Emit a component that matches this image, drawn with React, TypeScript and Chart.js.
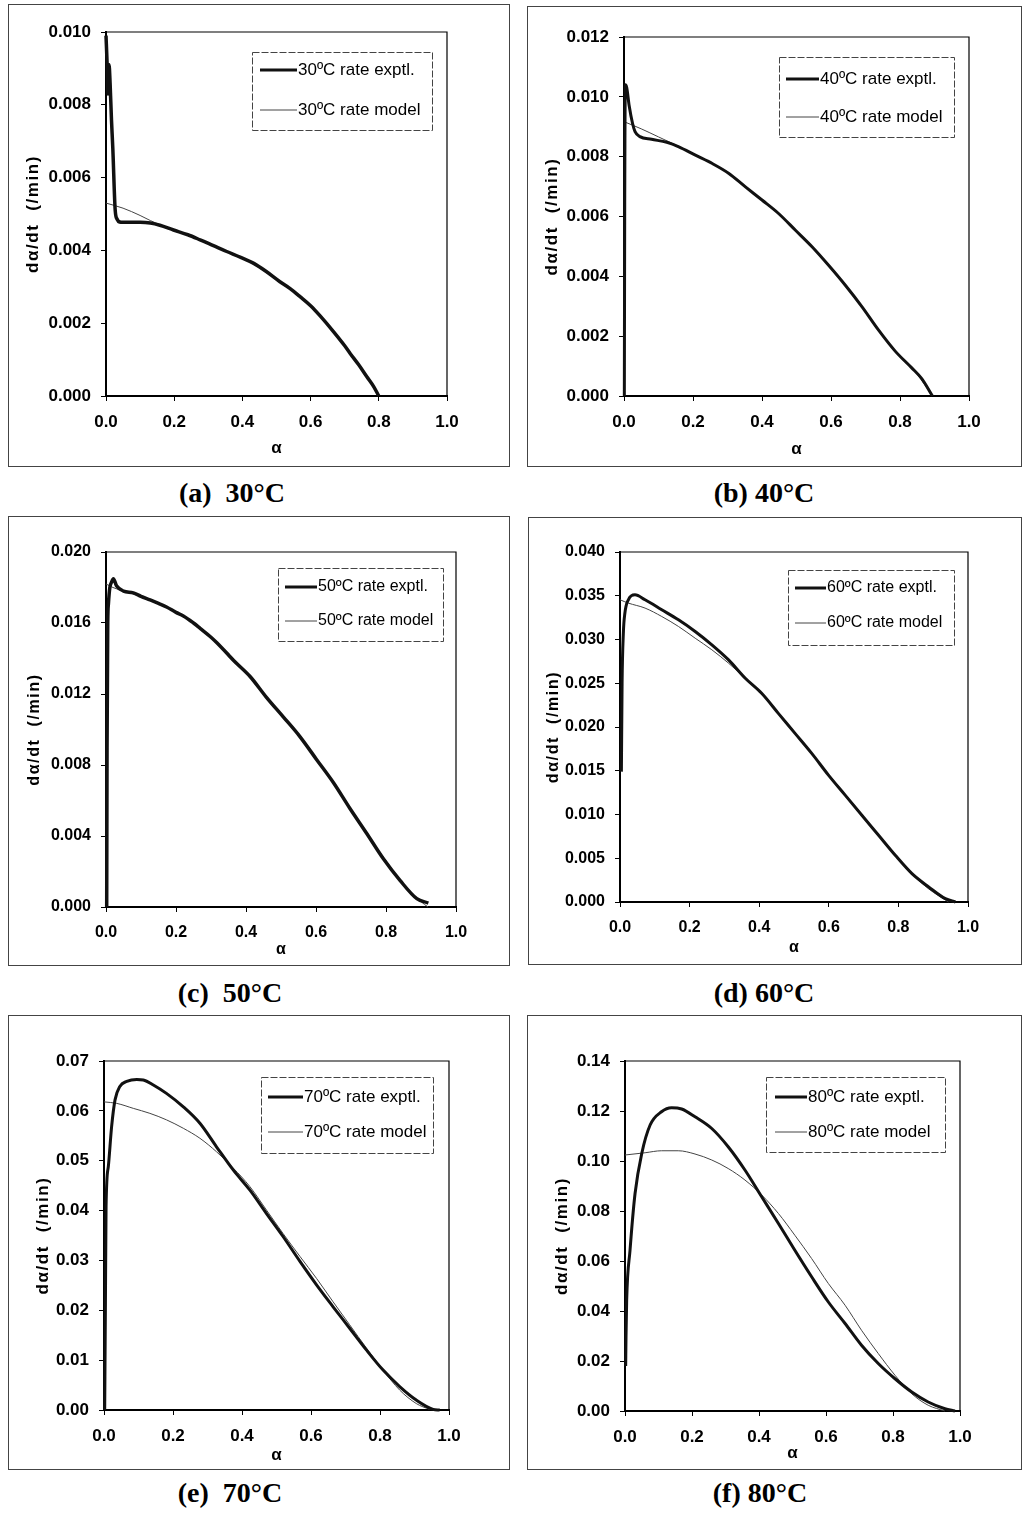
import React, { useEffect, useRef } from "react";
import { Chart, registerables } from "chart.js";

Chart.register(...registerables);

// ---------------- DATA ----------------
const xTicks = [0, 0.2, 0.4, 0.6, 0.8, 1.0];

// (a) 30 °C
const alphaExpt30 = [0.000, 0.003, 0.006, 0.009, 0.012, 0.016, 0.020, 0.027, 0.033, 0.040, 0.050, 0.075, 0.100, 0.130, 0.158, 0.198, 0.240, 0.276, 0.315, 0.354, 0.395, 0.432, 0.470, 0.510, 0.540, 0.569, 0.600, 0.628, 0.667, 0.700, 0.716, 0.740, 0.765, 0.785, 0.800];
const rateExpt30 = [0.0099, 0.0092, 0.0083, 0.0091, 0.0086, 0.0076, 0.0068, 0.0051, 0.00485, 0.00478, 0.00477, 0.00477, 0.00477, 0.00475, 0.00469, 0.00456, 0.00443, 0.00429, 0.00413, 0.00397, 0.00381, 0.00365, 0.00342, 0.00314, 0.00295, 0.00273, 0.00248, 0.00220, 0.00177, 0.00138, 0.00117, 0.00087, 0.00053, 0.00026, 0.0];
const alphaModel30 = [0.00, 0.05, 0.10, 0.13, 0.16, 0.20, 0.25, 0.30, 0.35, 0.40, 0.45, 0.50, 0.55, 0.60, 0.65, 0.70, 0.75, 0.78, 0.80];
const rateModel30 = [0.0053, 0.00516, 0.00496, 0.00482, 0.00470, 0.00457, 0.00438, 0.00418, 0.00399, 0.00379, 0.00352, 0.00320, 0.00288, 0.00247, 0.00197, 0.00141, 0.00074, 0.00036, 0.0];

// (b) 40 °C
const alphaExpt40 = [0.001, 0.002, 0.004, 0.008, 0.015, 0.025, 0.032, 0.046, 0.080, 0.124, 0.159, 0.207, 0.256, 0.304, 0.352, 0.400, 0.448, 0.497, 0.545, 0.593, 0.641, 0.690, 0.738, 0.786, 0.834, 0.863, 0.894];
const rateExpt40 = [0.0, 0.0060, 0.0104, 0.0103, 0.0097, 0.0091, 0.00884, 0.00867, 0.00858, 0.00848, 0.00833, 0.00805, 0.00777, 0.00744, 0.00699, 0.00655, 0.00610, 0.00554, 0.00499, 0.00437, 0.00371, 0.00298, 0.00220, 0.00150, 0.00094, 0.00058, 0.0];
const alphaModel40 = [0.00, 0.05, 0.10, 0.15, 0.20, 0.25, 0.30, 0.35, 0.40, 0.45, 0.50, 0.55, 0.60, 0.65, 0.70, 0.75, 0.80, 0.85, 0.894];
const rateModel40 = [0.00917, 0.00893, 0.00866, 0.00839, 0.00810, 0.00780, 0.00747, 0.00701, 0.00655, 0.00608, 0.00551, 0.00493, 0.00427, 0.00359, 0.00281, 0.00201, 0.00130, 0.00072, 0.0];

// (c) 50 °C
const alphaExpt50 = [0.002, 0.003, 0.005, 0.007, 0.011, 0.016, 0.021, 0.030, 0.050, 0.078, 0.100, 0.126, 0.150, 0.173, 0.200, 0.221, 0.250, 0.269, 0.300, 0.316, 0.350, 0.364, 0.411, 0.459, 0.507, 0.554, 0.602, 0.650, 0.697, 0.745, 0.792, 0.840, 0.888, 0.921];
const rateExpt50 = [0.0, 0.0090, 0.0160, 0.0171, 0.0180, 0.0183, 0.0185, 0.0181, 0.0178, 0.0177, 0.0175, 0.0173, 0.0171, 0.0169, 0.0166, 0.0164, 0.0160, 0.0157, 0.0152, 0.0149, 0.0142, 0.0139, 0.0130, 0.0118, 0.0107, 0.0096, 0.0083, 0.0070, 0.00555, 0.00414, 0.00273, 0.00150, 0.00047, 0.00022];
const alphaModel50 = [0.00, 0.02, 0.05, 0.10, 0.15, 0.20, 0.25, 0.30, 0.35, 0.40, 0.45, 0.50, 0.55, 0.60, 0.65, 0.70, 0.75, 0.80, 0.85, 0.90, 0.92];
const rateModel50 = [0.0182, 0.0180, 0.0178, 0.0175, 0.0171, 0.0166, 0.0160, 0.0152, 0.0142, 0.0132, 0.0120, 0.0108, 0.0097, 0.0084, 0.0070, 0.0055, 0.0040, 0.0026, 0.0013, 0.0003, 0.0];

// (d) 60 °C
const alphaExpt60 = [0.004, 0.006, 0.0096, 0.014, 0.024, 0.043, 0.072, 0.120, 0.168, 0.216, 0.264, 0.312, 0.360, 0.407, 0.455, 0.503, 0.551, 0.599, 0.647, 0.695, 0.743, 0.791, 0.839, 0.887, 0.935, 0.964];
const rateExpt60 = [0.0149, 0.0250, 0.0307, 0.0330, 0.03454, 0.03511, 0.03454, 0.0334, 0.03225, 0.03092, 0.02939, 0.02767, 0.02557, 0.02385, 0.02156, 0.01927, 0.01698, 0.0145, 0.01221, 0.00992, 0.00763, 0.00534, 0.00324, 0.00172, 0.00038, 0.0];
const alphaModel60 = [0.000, 0.024, 0.072, 0.120, 0.168, 0.216, 0.264, 0.312, 0.360, 0.407, 0.455, 0.503, 0.551, 0.599, 0.647, 0.695, 0.743, 0.791, 0.839, 0.887, 0.944];
const rateModel60 = [0.03454, 0.03416, 0.03359, 0.03263, 0.03149, 0.03015, 0.02882, 0.02729, 0.02557, 0.02385, 0.0216, 0.0193, 0.0170, 0.0146, 0.0123, 0.0100, 0.0077, 0.0054, 0.0032, 0.0015, 0.0];

// (e) 70 °C
const alphaExpt70 = [0.002, 0.004, 0.006, 0.0125, 0.022, 0.032, 0.046, 0.066, 0.095, 0.114, 0.143, 0.181, 0.230, 0.278, 0.326, 0.375, 0.423, 0.471, 0.519, 0.568, 0.616, 0.664, 0.712, 0.761, 0.809, 0.857, 0.905, 0.954, 0.973];
const rateExpt70 = [0.0, 0.0200, 0.0408, 0.0488, 0.0568, 0.0622, 0.0649, 0.0659, 0.0663, 0.0662, 0.0652, 0.0635, 0.0608, 0.0575, 0.0528, 0.0481, 0.0441, 0.0394, 0.0348, 0.0298, 0.0251, 0.0207, 0.0164, 0.0120, 0.0080, 0.0047, 0.0020, 0.00013, 0.0];
const alphaModel70 = [0.000, 0.037, 0.085, 0.133, 0.181, 0.230, 0.278, 0.326, 0.375, 0.423, 0.471, 0.519, 0.568, 0.616, 0.664, 0.712, 0.761, 0.809, 0.857, 0.905, 0.944];
const rateModel70 = [0.0618, 0.0615, 0.0605, 0.0595, 0.0582, 0.0565, 0.0545, 0.0518, 0.0485, 0.0448, 0.0401, 0.0354, 0.0308, 0.0264, 0.0217, 0.0171, 0.0124, 0.0080, 0.0040, 0.0013, 0.0001];

// (f) 80 °C
const alphaExpt80 = [0.002, 0.003, 0.005, 0.015, 0.030, 0.050, 0.075, 0.109, 0.139, 0.169, 0.209, 0.259, 0.308, 0.358, 0.408, 0.458, 0.507, 0.557, 0.607, 0.657, 0.706, 0.756, 0.806, 0.856, 0.905, 0.955, 0.985];
const rateExpt80 = [0.018, 0.0296, 0.0443, 0.0643, 0.0870, 0.1030, 0.1144, 0.1197, 0.1213, 0.1208, 0.1177, 0.1130, 0.1057, 0.0964, 0.0857, 0.0750, 0.0643, 0.0537, 0.0436, 0.0350, 0.0263, 0.0190, 0.0129, 0.0076, 0.0036, 0.0009, 0.0];
const alphaModel80 = [0.000, 0.060, 0.109, 0.159, 0.209, 0.259, 0.308, 0.358, 0.408, 0.458, 0.507, 0.557, 0.607, 0.657, 0.706, 0.756, 0.806, 0.856, 0.905, 0.955];
const rateModel80 = [0.1024, 0.1033, 0.1041, 0.1041, 0.1028, 0.1004, 0.0970, 0.0924, 0.0864, 0.0790, 0.0703, 0.0610, 0.0510, 0.0423, 0.0323, 0.0230, 0.0143, 0.0069, 0.0023, 0.0];

const temps = [30, 40, 50, 60, 70, 80];
const panelLetters = ["a", "b", "c", "d", "e", "f"];
const yMaxes = [0.010, 0.012, 0.020, 0.040, 0.07, 0.14];
const ySteps = [0.002, 0.002, 0.004, 0.005, 0.01, 0.02];
const yDecimals = [3, 3, 3, 3, 2, 2];
const yTitle = "dα/dt  (/min)";
const xTitle = "α";
const seriesAlphaExpt = [alphaExpt30, alphaExpt40, alphaExpt50, alphaExpt60, alphaExpt70, alphaExpt80];
const seriesRateExpt = [rateExpt30, rateExpt40, rateExpt50, rateExpt60, rateExpt70, rateExpt80];
const seriesAlphaModel = [alphaModel30, alphaModel40, alphaModel50, alphaModel60, alphaModel70, alphaModel80];
const seriesRateModel = [rateModel30, rateModel40, rateModel50, rateModel60, rateModel70, rateModel80];

// ---------------- LAYOUT (page pixels) ----------------
type Layout = {
  box: [number, number, number, number];
  plot: [number, number, number, number];
  yTitleX: number;
  xTitleY: number;
  legend: [number, number, number, number, number, number, number, number];
  caption: [number, number];
  fontSize: number;
  legendFont: number;
  exptWidth: number;
  captionSpace: string;
};

const layouts: Layout[] = [
  { box: [8, 4, 502, 463], plot: [106, 32, 447, 396], yTitleX: 33, xTitleY: 448, legend: [252, 52, 180, 78, 18, 58, 8, 45], caption: [232, 493], fontSize: 17, legendFont: 17, exptWidth: 3.5, captionSpace: "  " },
  { box: [527, 6, 495, 461], plot: [624, 37, 969, 396], yTitleX: 552, xTitleY: 449, legend: [779, 57, 175, 80, 22, 60, 7, 40], caption: [764, 493], fontSize: 17, legendFont: 17, exptWidth: 3, captionSpace: " " },
  { box: [8, 516, 502, 450], plot: [106, 552, 456, 907], yTitleX: 35, xTitleY: 950, legend: [278, 568, 165, 73, 19, 53, 7, 39], caption: [230, 993], fontSize: 16, legendFont: 16, exptWidth: 3.5, captionSpace: "  " },
  { box: [528, 517, 494, 448], plot: [620, 552, 968, 902], yTitleX: 554, xTitleY: 948, legend: [788, 570, 166, 75, 18, 53, 7, 38], caption: [764, 993], fontSize: 16, legendFont: 16, exptWidth: 3, captionSpace: " " },
  { box: [8, 1015, 502, 455], plot: [104, 1061, 449, 1410], yTitleX: 43, xTitleY: 1455, legend: [261, 1077, 172, 76, 20, 55, 7, 42], caption: [230, 1493], fontSize: 17, legendFont: 17, exptWidth: 3, captionSpace: "  " },
  { box: [527, 1015, 495, 455], plot: [625, 1061, 960, 1411], yTitleX: 562, xTitleY: 1453, legend: [766, 1077, 179, 75, 20, 55, 9, 41], caption: [760, 1493], fontSize: 17, legendFont: 17, exptWidth: 3, captionSpace: " " },
];

const SANS = '"Liberation Sans", Arial, sans-serif';

const boxLegendPlugin = {
  id: "boxLegend",
  afterDraw(chart: any, _args: any, opts: any) {
    const { ctx } = chart;
    const [x, y, w, h, r1, r2, lf, lt] = opts.rect;
    const rows = [r1, r2];
    ctx.save();
    ctx.fillStyle = "#fff";
    ctx.fillRect(x, y, w, h);
    ctx.strokeStyle = "#444";
    ctx.lineWidth = 1;
    ctx.setLineDash([7, 2]);
    ctx.strokeRect(x + 0.5, y + 0.5, w, h);
    ctx.setLineDash([]);
    chart.data.datasets.forEach((ds: any, i: number) => {
      const ry = y + rows[i];
      ctx.beginPath();
      ctx.moveTo(x + lf, ry);
      ctx.lineTo(x + lt, ry);
      ctx.lineWidth = Math.min(ds.borderWidth, 3);
      ctx.strokeStyle = ds.borderColor;
      ctx.stroke();
      ctx.fillStyle = "#000";
      ctx.font = `${opts.fontSize}px ${SANS}`;
      ctx.textBaseline = "middle";
      ctx.textAlign = "left";
      ctx.fillText(ds.label, x + lt + 1, ry);
    });
    ctx.restore();
  },
};

// spaced, rotated y-axis title (the source uses a letter-spaced label)
const yTitlePlugin = {
  id: "spacedYTitle",
  afterDraw(chart: any, _args: any, opts: any) {
    const { ctx, chartArea } = chart;
    ctx.save();
    ctx.translate(opts.x, (chartArea.top + chartArea.bottom) / 2);
    ctx.rotate(-Math.PI / 2);
    ctx.font = `bold ${opts.fontSize}px ${SANS}`;
    try {
      (ctx as any).letterSpacing = `${opts.spacing}px`;
    } catch (e) {}
    ctx.fillStyle = "#000";
    ctx.textAlign = "center";
    ctx.textBaseline = "middle";
    ctx.fillText(opts.text, 0, 0);
    ctx.restore();
  },
};

const framePlugin = {
  id: "plotFrame",
  afterDatasetsDraw(chart: any) {
    const { ctx, chartArea } = chart;
    ctx.save();
    ctx.strokeStyle = "#000";
    ctx.lineWidth = 1.2;
    ctx.beginPath();
    ctx.moveTo(chartArea.left, chartArea.top);
    ctx.lineTo(chartArea.right, chartArea.top);
    ctx.lineTo(chartArea.right, chartArea.bottom);
    ctx.stroke();
    ctx.restore();
  },
};

function Panel({ idx }: { idx: number }) {
  const ref = useRef<HTMLCanvasElement | null>(null);
  const L = layouts[idx];
  const [bx, by, bw, bh] = L.box;
  const [pl, pt, pr, pb] = L.plot;
  const t = temps[idx];

  useEffect(() => {
    if (!ref.current) return;
    const tickFont = { family: SANS, size: L.fontSize, weight: "bold" as const };
    const titleFont = { family: SANS, size: L.fontSize, weight: "bold" as const, lineHeight: 1.2 };
    const lh = L.fontSize * 1.2;
    const xTitlePad = bh - (L.xTitleY - by) - lh / 2;
    const [lx, ly, lw, lhh, r1, r2, lf, lt] = L.legend;

    const expt = seriesAlphaExpt[idx].map((a, i) => ({ x: a, y: seriesRateExpt[idx][i] }));
    const model = seriesAlphaModel[idx].map((a, i) => ({ x: a, y: seriesRateModel[idx][i] }));

    const chart = new Chart(ref.current, {
      type: "line",
      data: {
        datasets: [
          {
            label: `${t}ºC rate exptl.`,
            data: expt,
            borderColor: "#111",
            borderWidth: L.exptWidth,
            pointRadius: 0,
            cubicInterpolationMode: "monotone",
            clip: 4,
          },
          {
            label: `${t}ºC rate model`,
            data: model,
            borderColor: "#444",
            borderWidth: 1,
            pointRadius: 0,
            cubicInterpolationMode: "monotone",
            clip: 4,
          },
        ],
      },
      options: {
        animation: false,
        responsive: false,
        events: [],
        layout: { padding: { left: 0, top: pt - by, right: bx + bw - pr, bottom: 0 } },
        plugins: {
          legend: { display: false },
          tooltip: { enabled: false },
          boxLegend: { rect: [lx - bx, ly - by, lw, lhh, r1, r2, lf, lt], fontSize: L.legendFont },
          spacedYTitle: { text: yTitle, x: L.yTitleX - bx, fontSize: L.fontSize, spacing: 1.6 },
        } as any,
        scales: {
          x: {
            type: "linear",
            min: 0,
            max: 1,
            afterFit: (s: any) => {
              s.height = by + bh - pb;
            },
            afterBuildTicks: (s: any) => {
              s.ticks = xTicks.map((v) => ({ value: v }));
            },
            ticks: {
              font: tickFont,
              color: "#000",
              padding: 11,
              maxRotation: 0,
              autoSkip: false,
              callback: (v: any) => Number(v).toFixed(1),
            },
            grid: { drawOnChartArea: false, drawTicks: true, tickLength: 5, color: "#000", lineWidth: 1 },
            border: { display: true, color: "#000", width: 2 },
            title: { display: true, text: xTitle, font: titleFont, color: "#000", padding: { top: 0, bottom: xTitlePad } },
          },
          y: {
            type: "linear",
            min: 0,
            max: yMaxes[idx],
            afterFit: (s: any) => {
              s.width = pl - bx;
            },
            ticks: {
              stepSize: ySteps[idx],
              font: tickFont,
              color: "#000",
              padding: 10,
              autoSkip: false,
              callback: (v: any) => Number(v).toFixed(yDecimals[idx]),
            },
            grid: { drawOnChartArea: false, drawTicks: true, tickLength: 5, color: "#000", lineWidth: 1 },
            border: { display: true, color: "#000", width: 2 },
            title: { display: false, text: yTitle },
          },
        },
      } as any,
      plugins: [boxLegendPlugin, framePlugin, yTitlePlugin],
    });
    return () => chart.destroy();
  }, [idx]);

  const [cx, cy] = L.caption;
  return (
    <>
      <div
        style={{
          position: "absolute",
          left: bx,
          top: by,
          width: bw,
          height: bh,
          boxSizing: "border-box",
          border: "1px solid #444",
        }}
      />
      <canvas
        ref={ref}
        width={bw}
        height={bh}
        style={{ position: "absolute", left: bx, top: by, width: bw, height: bh, display: "block" }}
      />
      <div
        style={{
          position: "absolute",
          left: cx - 120,
          top: cy - 17,
          width: 240,
          textAlign: "center",
          font: 'bold 28px "Liberation Serif", "Times New Roman", serif',
          lineHeight: "34px",
          whiteSpace: "pre",
          color: "#000",
        }}
      >
        {`(${panelLetters[idx]})${L.captionSpace}${t}°C`}
      </div>
    </>
  );
}

export default function App() {
  return (
    <div style={{ position: "absolute", left: 0, top: 0, width: 1024, height: 1513, background: "#fff" }}>
      {temps.map((_, i) => (
        <Panel key={i} idx={i} />
      ))}
    </div>
  );
}
